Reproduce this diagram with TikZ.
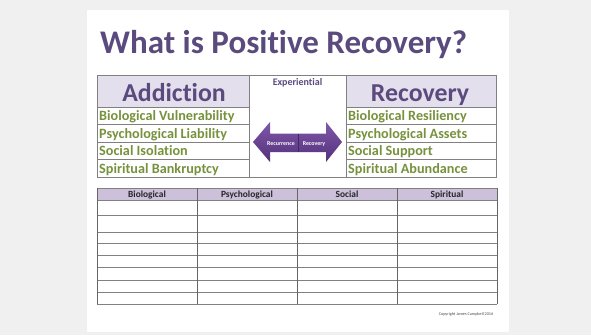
\documentclass[tikz,border=0pt]{standalone}
\usepackage{fontspec}
\setmainfont{Carlito}[Ligatures=NoCommon]
\definecolor{pagebg}{HTML}{F0F0F0}
\definecolor{titlepurple}{HTML}{5B4A7E}
\definecolor{headlav}{HTML}{E4DFEC}
\definecolor{headlavdark}{HTML}{CCC0DA}
\definecolor{olive}{HTML}{76923C}
\definecolor{gridgray}{HTML}{808080}
\definecolor{arrowtop}{HTML}{7E58AA}
\definecolor{arrowbot}{HTML}{55307A}
\tikzset{
  gridline/.style={draw=gridgray, line width=0.9pt},
  bighead/.style={font=\fontsize{25.8}{26}\selectfont\bfseries, text=titlepurple, inner sep=0pt, anchor=base},
  trait/.style={font=\fontsize{14.2}{15}\selectfont\bfseries, text=olive, inner sep=0pt, anchor=base west},
  colhead/.style={font=\fontsize{9.4}{10}\selectfont\bfseries, text=black!85, inner sep=0pt, anchor=base},
  arrowlabel/.style={font=\fontsize{5.9}{6}\selectfont\bfseries, text=white, inner sep=0pt, anchor=base}
}
\begin{document}
\begin{tikzpicture}[x=1pt,y=-1pt]
% page and slide
\fill[pagebg] (0,0) rectangle (591,335);
\fill[white] (87,10) rectangle (509,332);
\useasboundingbox (0,0) rectangle (591,335);

% title
\node[anchor=base west, inner sep=0pt, font=\fontsize{33}{33}\selectfont\bfseries, text=titlepurple] (title) at (100,53) {What is Positive Recovery?};

% upper table: headers
\path[fill=headlav, gridline] (97,75) rectangle (249,107);
\path[fill=headlav, gridline] (346,75) rectangle (496,107);
\path[gridline] (249,75) rectangle (346,177);
\node[bighead] (addiction) at (174,101) {Addiction};
\node[bighead] (recovery) at (420,101) {Recovery};
\node[font=\fontsize{10}{10}\selectfont\bfseries, text=titlepurple, inner sep=0pt, anchor=base] (experiential) at (297.5,85) {Experiential};

% upper table: trait rows
\foreach \ya/\yb in {107/124.5,124.5/142,142/159.5,159.5/177}{
  \path[gridline] (97,\ya) rectangle (249,\yb);
  \path[gridline] (346,\ya) rectangle (496,\yb);
}
\node[trait] (addA) at (99,120.5) {Biological Vulnerability};
\node[trait] (addB) at (99,138) {Psychological Liability};
\node[trait] (addC) at (99,155.5) {Social Isolation};
\node[trait] (addD) at (99,173) {Spiritual Bankruptcy};
\node[trait] (recA) at (348,120.5) {Biological Resiliency};
\node[trait] (recB) at (348,138) {Psychological Assets};
\node[trait] (recC) at (348,155.5) {Social Support};
\node[trait] (recD) at (348,173) {Spiritual Abundance};

% double arrow between the two poles
\shade[top color=arrowtop, bottom color=arrowbot]
  (253,142) -- (270,122) -- (270,133.5) -- (326,133.5) -- (326,122) -- (342,142)
  -- (326,162) -- (326,152) -- (270,152) -- (270,162) -- cycle;
\draw[arrowbot!80!black, line width=0.4pt] (298,133.5) -- (298,152);
\node[arrowlabel] (recur) at (281,145) {Recurrence};
\node[arrowlabel] (recov) at (314,145) {Recovery};

% lower table
\path[fill=headlavdark] (97,188) rectangle (497,200);
\foreach \y in {188,200,215,232,243,255,267,280,292,304}{
  \draw[gridline] (97,\y) -- (497,\y);
}
\foreach \x in {97,197,297,397,497}{
  \draw[gridline, draw=black!60] (\x,188) -- (\x,304);
}
\node[colhead] (bio) at (147,197.3) {Biological};
\node[colhead] (psy) at (247,197.3) {Psychological};
\node[colhead] (soc) at (347,197.3) {Social};
\node[colhead] (spi) at (447,197.3) {Spiritual};

% footer
\node[font=\fontsize{4.2}{4.2}\selectfont, text=black!70, inner sep=0pt] (copyright) at (466,314) {Copyright James Campbell 2016};
\end{tikzpicture}
\end{document}
